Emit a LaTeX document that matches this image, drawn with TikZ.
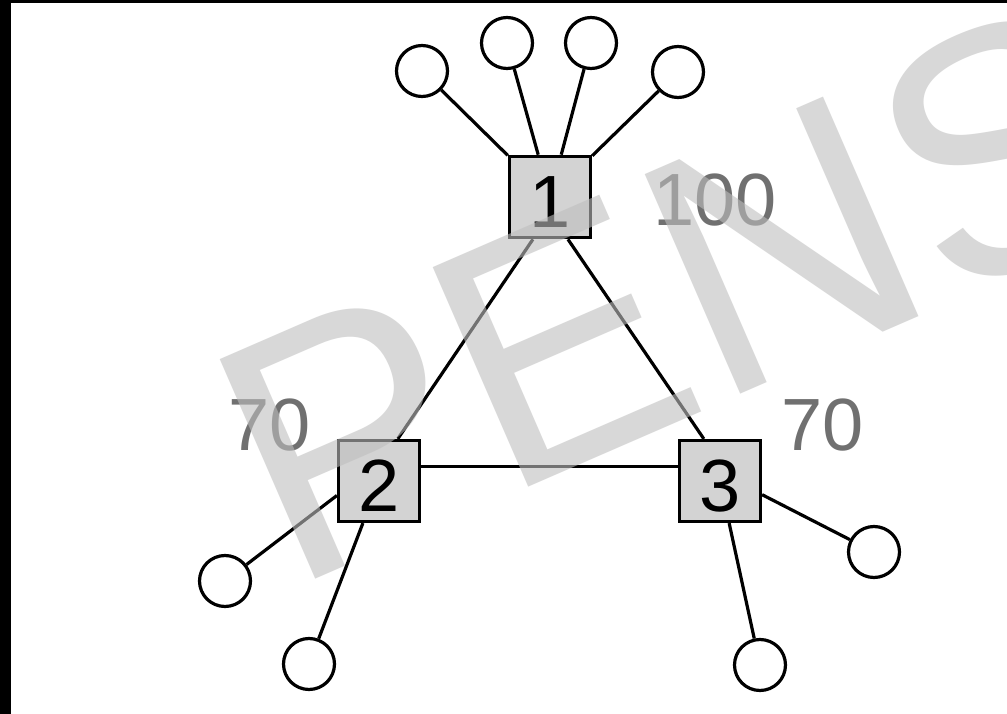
\documentclass[tikz,border=0pt]{standalone}
\usepackage{fontspec}
\setmainfont{Liberation Sans}
\begin{document}
\begin{tikzpicture}[x=1pt,y=-1pt,
  hub/.style={draw=black, line width=3.2pt, fill=boxgray, minimum width=81pt,
    minimum height=81pt, inner sep=0pt, text height=61pt, text depth=0pt,
    font=\fontsize{74}{74}\selectfont},
  leaf/.style={draw=black, line width=3.2pt, circle, minimum size=51pt, inner sep=0pt, fill=white},
  wire/.style={draw=black, line width=3.2pt},
  weight/.style={text=labelgray, inner sep=0pt, font=\fontsize{74}{74}\selectfont}]
\definecolor{boxgray}{RGB}{211,211,211}
\definecolor{labelgray}{RGB}{112,112,112}
\definecolor{markgray}{RGB}{190,190,190}
\useasboundingbox (0,0) rectangle (1007,714);
\clip (0,0) rectangle (1007,714);
\fill[white] (0,0) rectangle (1007,714);
% frame strips on the left and top
\fill[black] (0,0) rectangle (11,714);
\fill[black] (0,0) rectangle (1007,3);

% switches
\node[hub, line width=3.6pt] (n1) at (550,197) {1};
\node[hub] (n2) at (379,481) {2};
\node[hub] (n3) at (720,481) {3};

% hosts
\node[leaf] (c1) at (422,71) {};
\node[leaf] (c2) at (507,43) {};
\node[leaf] (c3) at (591,43) {};
\node[leaf] (c4) at (678,72) {};
\node[leaf] (c5) at (225,581) {};
\node[leaf] (c6) at (309,664) {};
\node[leaf] (c7) at (874,552) {};
\node[leaf] (c8) at (760,665) {};

% host links
\draw[wire] (c1) -- (n1);
\draw[wire] (c2) -- (n1);
\draw[wire] (c3) -- (n1);
\draw[wire] (c4) -- (n1);
\draw[wire] (n2.199) -- (c5);
\draw[wire] (c6) -- (n2);
\draw[wire] (n3.-18) -- (c7);
\draw[wire] (c8) -- (n3);

% trunk links
\draw[wire] (n1.-112) -- (n2.66);
\draw[wire] (n1.-67) -- (n3.111);
\draw[wire] (n2.19) -- (n3.161);

% capacities
\node[weight] (w1) at (715,200) {100};
\node[weight] (w2) at (270,425) {70};
\node[weight] (w3) at (823,425) {70};

% watermark
\node[anchor=base west, inner sep=0pt, rotate=23.5, text=markgray, text opacity=0.6,
  font=\fontsize{348}{348}\selectfont] (mark) at (289,591) {PENS};
\end{tikzpicture}
\end{document}
